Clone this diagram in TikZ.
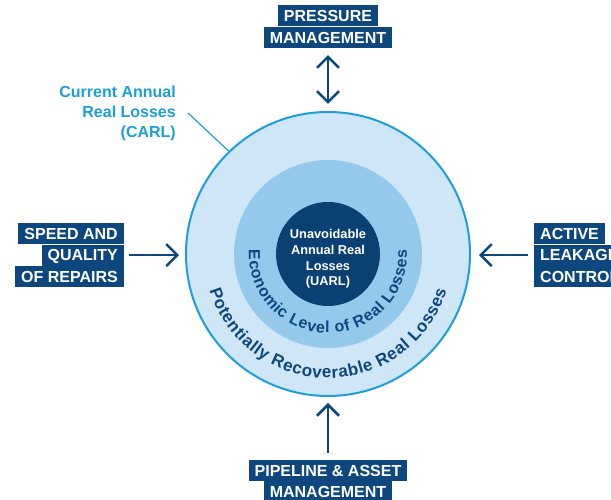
\documentclass[tikz,border=0pt]{standalone}
\usepackage{fontspec}
\setmainfont{Liberation Sans}
\usetikzlibrary{positioning,arrows.meta,decorations.text}

\definecolor{navy}{RGB}{14,71,125}
\definecolor{ringnavy}{RGB}{11,64,115}
\definecolor{carlblue}{RGB}{27,158,217}
\definecolor{outerfill}{RGB}{207,230,246}
\definecolor{midfill}{RGB}{148,201,236}

\tikzset{%
          every ring/.style={
            circle,
            inner sep=0pt
          },
          action box/.style={
            fill=navy,
            text=white,
            font=\fontsize{16}{16}\selectfont\bfseries,
            inner xsep=6pt,
            inner ysep=4.75pt,
            text height=11.5pt,
            text depth=0pt
          },
          action arrow/.style={
            draw=navy,
            line width=2.5pt
          },
        }

\begin{document}
\begin{tikzpicture}[x=1pt, y=1pt, >={Straight Barb[length=11pt,width=22pt]}]
        \useasboundingbox (0,0) rectangle (611,500);

        \node [every ring, draw=carlblue, line width=2pt, fill=outerfill, minimum size=284pt] (carl) at (328,246) {};
        \node [every ring, fill=midfill, minimum size=188pt] (elrl) at (328,246) {};
        \node [every ring, fill=ringnavy, minimum size=104pt] (uarl) at (328,246) {};
        \node [text=white, align=center, font=\fontsize{12.8}{15.7}\selectfont\bfseries] (uarltxt) at (328,241) {Unavoidable\\Annual Real\\Losses\\(UARL)};

        \path [decorate, decoration={text along path, text align={fit to path},
               text={|\fontsize{17}{17}\selectfont\bfseries\color{navy}|Potentially Recoverable Real Losses}}]
               ([shift={(197:124)}]carl.center) arc [start angle=197, end angle=343, radius=124];
        \path [decorate, decoration={text along path, text align={fit to path},
               text={|\fontsize{16}{16}\selectfont\bfseries\color{navy}|Economic Level of Real Losses}}]
               ([shift={(177:79)}]elrl.center) arc [start angle=177, end angle=363, radius=79];

        \node [text=carlblue, align=right, font=\fontsize{16}{20}\selectfont\bfseries, inner sep=0pt, anchor=east] (carltxt) at (176,387) {Current Annual\\Real Losses\\(CARL)};
        \path [draw=carlblue, line width=1.2pt] ([xshift=12pt]carltxt.east) -- (carl.134);

        \node [action box] (pm1) at (328,484) {PRESSURE};
        \node [action box, below=0pt of pm1] (pm2) {MANAGEMENT};

        \node [action box, anchor=north east] (sq1) at (124,277) {SPEED AND};
        \node [action box, below=0pt of sq1.south east, anchor=north east] (sq2) {QUALITY};
        \node [action box, below=0pt of sq2.south east, anchor=north east] (sq3) {OF REPAIRS};

        \node [action box, anchor=north west] (al1) at (534,277) {ACTIVE};
        \node [action box, below=0pt of al1.south west, anchor=north west] (al2) {LEAKAGE};
        \node [action box, below=0pt of al2.south west, anchor=north west] (al3) {CONTROL};

        \node [action box] (pa1) at (328,29.5) {PIPELINE \& ASSET};
        \node [action box, below=0pt of pa1] (pa2) {MANAGEMENT};

        \path [action arrow, <->, shorten <=7pt, shorten >=7pt] (pm2.south) -- (carl.north);
        \path [action arrow, ->, shorten <=5pt, shorten >=6pt] (sq2.east) -- (sq2.east -| carl.west);
        \path [action arrow, ->, shorten <=6pt, shorten >=8pt] (al2.west) -- (al2.west -| carl.east);
        \path [action arrow, ->, shorten <=7pt, shorten >=6pt] (pa1.north) -- (carl.south);

        \end{tikzpicture}
\end{document}
